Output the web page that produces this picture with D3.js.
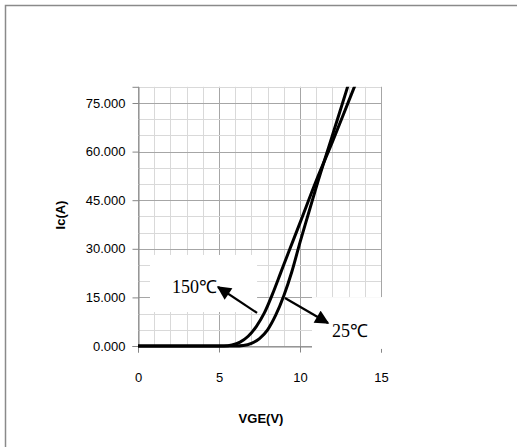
<!DOCTYPE html>
<html>
<head>
<meta charset="utf-8">
<script src="https://cdn.jsdelivr.net/npm/d3@7/dist/d3.min.js"></script>
<style>
  body { margin: 0; background: #fff; }
  svg { display: block; }
</style>
</head>
<body>
<svg id="chart"></svg>
<script>
// DATA ///////////////////////////////////////////////////////////////////
var vge150 = [0, 5.3, 5.8, 6.3, 6.8, 7.3, 7.8, 8.3, 8.8, 9.3, 10, 11, 12, 13, 13.6];
var ic150 = [0, 0, 0.3, 1.2, 3.0, 6.0, 10.2, 16.0, 22.5, 29.0, 38.0, 51.0, 63.0, 75.5, 83];
var vge25 = [0, 6, 6.5, 7, 7.5, 8, 8.5, 9, 9.5, 10, 10.5, 11, 12, 13, 13.3];
var ic25 = [0, 0, 0.15, 0.8, 2.3, 5.0, 9.5, 15.5, 23.0, 32.0, 40.5, 49.0, 65.0, 81.0, 86];
var xTicks = [0, 5, 10, 15];
var yTicks = [0, 15, 30, 45, 60, 75];
var labels = ["150\u2103", "25\u2103"];

// SETUP //////////////////////////////////////////////////////////////////
var W = 517, H = 447;
var svg = d3.select('#chart').attr('width', W).attr('height', H);

// outer chart border
svg.append('rect')
    .attr('x', 5.5).attr('y', 5.5)
    .attr('width', W + 10).attr('height', H + 10)
    .attr('fill', 'none')
    .attr('stroke', '#8a8a8a')
    .attr('stroke-width', 1.5);

var x = d3.scaleLinear().domain([0, 15]).range([138, 381]);
var y = d3.scaleLinear().domain([0, 80]).range([346, 86.8]);

// grid lines: minor every 1V / 5A, major on tick values
var gx = d3.range(0, 15.01, 1), gy = d3.range(0, 80.01, 5);
var grid = svg.append('g');
grid.selectAll('line.vx').data(gx).enter().append('line')
    .attr('x1', d => Math.round(x(d)) + 0.5).attr('x2', d => Math.round(x(d)) + 0.5)
    .attr('y1', y(80)).attr('y2', y(0))
    .attr('stroke', d => d % 5 === 0 ? '#a6a6a6' : '#d9d9d9');
grid.selectAll('line.hy').data(gy).enter().append('line')
    .attr('y1', d => Math.round(y(d)) + 0.5).attr('y2', d => Math.round(y(d)) + 0.5)
    .attr('x1', x(0)).attr('x2', x(15))
    .attr('stroke', d => d % 15 === 0 ? '#a6a6a6' : '#d9d9d9');

// axes
var yAxis = svg.append('g')
    .attr('transform', 'translate(' + (Math.round(x(0)) + 0.5) + ',0)')
    .call(d3.axisLeft(y).tickValues(yTicks).tickFormat(d3.format('.3f')).tickSize(6).tickPadding(7));
var xAxis = svg.append('g')
    .attr('transform', 'translate(0,' + (Math.round(y(0)) + 0.5) + ')')
    .call(d3.axisBottom(x).tickValues(xTicks).tickFormat(d3.format('d')).tickSize(6).tickPadding(20));
[yAxis, xAxis].forEach(function (a) {
    a.selectAll('path').attr('stroke', '#868686');
    a.selectAll('line').attr('stroke', '#868686');
    a.selectAll('text')
        .attr('fill', '#000')
        .style('font-family', '"Liberation Sans", Arial, sans-serif')
        .style('font-size', '13px');
});

// white label boxes covering the grid
svg.append('rect')
    .attr('x', x(0.74)).attr('y', y(28.1))
    .attr('width', x(7.35) - x(0.74)).attr('height', y(10.5) - y(28.1))
    .attr('fill', '#fff');
svg.append('rect')
    .attr('x', x(10.74)).attr('y', y(15.1))
    .attr('width', x(15.9) - x(10.74)).attr('height', y(-0.9) - y(15.1))
    .attr('fill', '#fff');

// curves
svg.append('clipPath').attr('id', 'plotClip')
    .append('rect').attr('x', 0).attr('y', y(80)).attr('width', W).attr('height', H);

var line = d3.line().x(d => x(d[0])).y(d => y(d[1])).curve(d3.curveMonotoneX);
var series = [d3.zip(vge150, ic150), d3.zip(vge25, ic25)];
svg.append('g').attr('clip-path', 'url(#plotClip)')
    .selectAll('path').data(series).enter().append('path')
    .attr('d', line)
    .attr('fill', 'none')
    .attr('stroke', '#000')
    .attr('stroke-width', 3)
    .attr('stroke-linejoin', 'round');

// annotation arrows
svg.append('defs').append('marker')
    .attr('id', 'arrow')
    .attr('markerUnits', 'userSpaceOnUse')
    .attr('viewBox', '0 0 10 10')
    .attr('refX', 9).attr('refY', 5)
    .attr('markerWidth', 16).attr('markerHeight', 14)
    .attr('orient', 'auto')
    .append('path').attr('d', 'M0,0 L10,5 L0,10 Z').attr('fill', '#000');

var arrows = [[[7.35, 10.2], [4.94, 18.2]], [[9.07, 14.8], [11.73, 7.1]]];
svg.selectAll('line.arrow').data(arrows).enter().append('line')
    .attr('x1', d => x(d[0][0])).attr('y1', d => y(d[0][1]))
    .attr('x2', d => x(d[1][0])).attr('y2', d => y(d[1][1]))
    .attr('stroke', '#000').attr('stroke-width', 2.2)
    .attr('marker-end', 'url(#arrow)');

var labelPos = [[4.88, 16.4, 'end'], [11.98, 2.8, 'start']];
svg.selectAll('text.lbl').data(labels).enter().append('text')
    .attr('x', (d, i) => x(labelPos[i][0]))
    .attr('y', (d, i) => y(labelPos[i][1]))
    .attr('text-anchor', (d, i) => labelPos[i][2])
    .style('font-family', '"Liberation Serif", "Times New Roman", serif')
    .style('font-size', '18px')
    .text(d => d);

// axis titles
svg.append('text')
    .attr('transform', 'translate(65,215) rotate(-90)')
    .attr('text-anchor', 'middle')
    .style('font-family', '"Liberation Sans", Arial, sans-serif')
    .style('font-weight', 'bold')
    .style('font-size', '13px')
    .text('Ic(A)');
svg.append('text')
    .attr('x', 261).attr('y', 423)
    .attr('text-anchor', 'middle')
    .style('font-family', '"Liberation Sans", Arial, sans-serif')
    .style('font-weight', 'bold')
    .style('font-size', '13px')
    .text('VGE(V)');
</script>
</body>
</html>
